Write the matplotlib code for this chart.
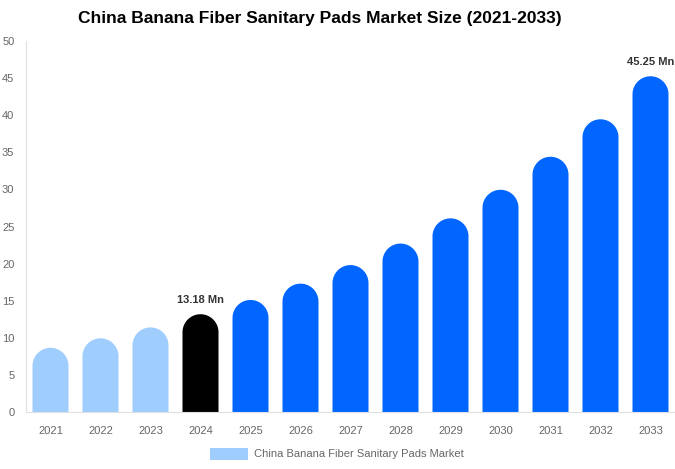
import matplotlib
matplotlib.use("Agg")
import numpy as np
import matplotlib.pyplot as plt
from matplotlib.patches import Polygon

plt.rcParams['font.family'] = ['Liberation Sans', 'DejaVu Sans']

years = ['2021', '2022', '2023', '2024', '2025', '2026', '2027',
         '2028', '2029', '2030', '2031', '2032', '2033']
values = [8.65, 9.93, 11.4, 13.18, 15.1, 17.3, 19.8, 22.7, 26.1, 29.95, 34.4, 39.45, 45.25]
labels = {3: '13.18 Mn', 12: '45.25 Mn'}
legend_name = 'China Banana Fiber Sanitary Pads Market'

light = '#9fcdfd'
dark = '#000000'
blue = '#0066ff'
colors = [light] * 3 + [dark] + [blue] * 9

W, H = 675, 469
fig = plt.figure(figsize=(W / 100, H / 100), dpi=100)
ax = fig.add_axes([25.5 / W, 57 / H, 650 / W, 371 / H])
ax.set_xlim(-0.5, len(years) - 0.5)
ax.set_ylim(0, 50)

bw = 0.72
# vertical radius of the cap in data units so it looks round on screen
px_x = 650 / len(years)
px_y = 371 / 50
ry = (bw / 2) * px_x / px_y
ang = np.linspace(0, np.pi, 40)

x = list(range(len(years)))
for i, v in enumerate(values):
    base = v - ry
    arc = np.column_stack([i + (bw / 2) * np.cos(ang), base + ry * np.sin(ang)])
    pts = np.vstack([[[i + bw / 2, 0]], arc, [[i - bw / 2, 0]]])
    ax.add_patch(Polygon(pts, closed=True, facecolor=colors[i], edgecolor='none'))

for i, t in labels.items():
    ax.text(i, values[i] + 1.3, t, ha='center', va='bottom', fontsize=8,
            fontweight='bold', color='#333333')

ax.set_xticks(x)
ax.set_xticklabels(years)
ax.set_yticks(range(0, 51, 5))
ax.tick_params(axis='both', length=0, labelsize=8, colors='#666666')
ax.tick_params(axis='x', pad=10)
ax.tick_params(axis='y', pad=8)
for s in ['top', 'right']:
    ax.spines[s].set_visible(False)
ax.spines['left'].set_color('#e0e0e0')
ax.spines['bottom'].set_color('#e0e0e0')

fig.text(319.5 / W, 1 - 18 / H, 'China Banana Fiber Sanitary Pads Market Size (2021-2033)',
         ha='center', va='center', fontsize=12.5, fontweight='bold', color='#000000')

# legend
fig.patches.append(plt.Rectangle((210 / W, 1 - 460 / H), 38 / W, 12 / H,
                                 transform=fig.transFigure, color=light, linewidth=0))
fig.text(254 / W, 1 - 454 / H, legend_name, ha='left', va='center',
         fontsize=8, color='#666666')

fig.savefig('out.png', dpi=100)
